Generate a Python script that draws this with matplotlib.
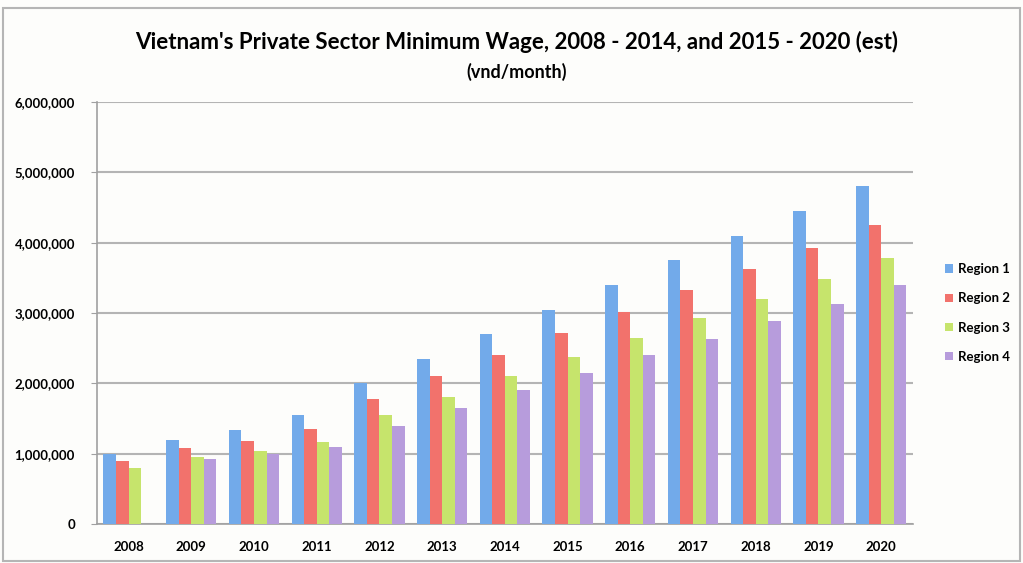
import numpy as np
import matplotlib
matplotlib.use("Agg")
import matplotlib.pyplot as plt
from matplotlib.patches import Rectangle
from matplotlib.ticker import FuncFormatter

years = ["2008", "2009", "2010", "2011", "2012", "2013", "2014",
         "2015", "2016", "2017", "2018", "2019", "2020"]
region1 = [1000000, 1190000, 1340000, 1550000, 2000000, 2350000, 2700000,
           3050000, 3400000, 3750000, 4100000, 4450000, 4800000]
region2 = [900000, 1080000, 1180000, 1350000, 1780000, 2100000, 2400000,
           2720000, 3020000, 3330000, 3630000, 3930000, 4250000]
region3 = [800000, 950000, 1040000, 1170000, 1550000, 1800000, 2100000,
           2370000, 2650000, 2930000, 3200000, 3480000, 3780000]
region4 = [0, 920000, 1000000, 1100000, 1400000, 1650000, 1900000,
           2150000, 2400000, 2630000, 2880000, 3130000, 3400000]
series = ["Region 1", "Region 2", "Region 3", "Region 4"]
colors = ["#72aaea", "#f2726c", "#c6e46c", "#b79cdc"]

plt.rcParams["font.family"] = ["Lato", "DejaVu Sans"]

fig = plt.figure(figsize=(10.23, 5.63), dpi=100)
fig.patch.set_facecolor("#fdfdfb")
fig.patches.append(Rectangle((0.003, 0.003), 0.994, 0.982, transform=fig.transFigure,
                             fill=False, edgecolor="#b5b5b5", lw=1.5))

ax = fig.add_axes([0.095, 0.069, 0.797, 0.75])
ax.set_facecolor("#fdfdfb")

x = np.arange(len(years))
w = 0.2
for i, (vals, name, c) in enumerate(zip([region1, region2, region3, region4], series, colors)):
    ax.bar(x + (i - 1.5) * w, vals, width=w, color=c, label=name, zorder=3)

ax.set_ylim(0, 6000000)
ax.set_xlim(-0.5, len(years) - 0.5)
ax.set_yticks(np.arange(0, 6000001, 1000000))
ax.yaxis.set_major_formatter(FuncFormatter(lambda v, p: f"{int(v):,}"))
ax.set_xticks(x)
ax.set_xticklabels(years)
ax.tick_params(axis="x", length=0, pad=12, labelsize=9.5)
ax.tick_params(axis="y", length=4, color="#a0a0a0", pad=12, labelsize=9.5)
for lab in ax.get_xticklabels() + ax.get_yticklabels():
    lab.set_fontweight("bold")
ax.grid(axis="y", color="#b4b4b4", lw=1.5, zorder=0)
for s in ["top", "right"]:
    ax.spines[s].set_visible(False)
for s in ["left", "bottom"]:
    ax.spines[s].set_color("#a0a0a0")
    ax.spines[s].set_linewidth(1.2)

fig.text(0.505, 0.925, "Vietnam's Private Sector Minimum Wage, 2008 - 2014, and 2015 - 2020 (est)",
         ha="center", va="center", fontsize=16, fontweight="bold")
fig.text(0.505, 0.873, "(vnd/month)", ha="center", va="center", fontsize=13, fontweight="bold")

leg = ax.legend(loc="center left", bbox_to_anchor=(1.025, 0.5), frameon=False,
                handlelength=0.6, handleheight=0.6, handletextpad=0.4,
                labelspacing=1.3, prop={"weight": "bold", "size": 9.5})

fig.savefig("out.png", dpi=100, facecolor=fig.get_facecolor())
